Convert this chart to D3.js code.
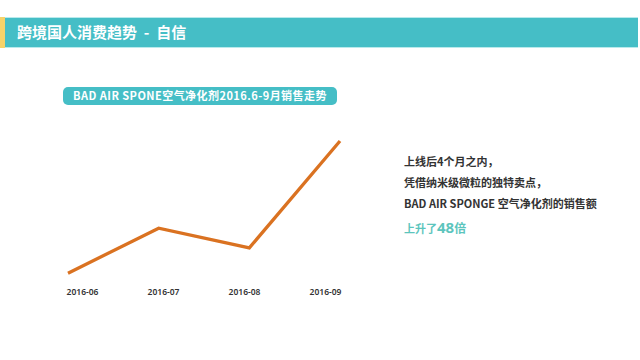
<!DOCTYPE html>
<html>
<head>
<meta charset="utf-8">
<script src="https://cdn.jsdelivr.net/npm/d3@7/dist/d3.min.js"></script>
<style>
  html, body { margin: 0; padding: 0; background: #fff; }
  svg { display: block; }
  text { font-family: "Noto Sans CJK SC", "Noto Sans", sans-serif; }
</style>
</head>
<body>
<svg id="chart" width="640" height="360"></svg>
<script>
// Monthly sales, indexed so that June = 1
const months = ["2016-06", "2016-07", "2016-08", "2016-09"];
const sales = [1, 17, 10, 48];

const headerTitle = "跨境国人消费趋势 - 自信";
const chartTitle = "BAD AIR SPONE空气净化剂2016.6-9月销售走势";
const noteLines = [
  "上线后4个月之内，",
  "凭借纳米级微粒的独特卖点，",
  "BAD AIR SPONGE 空气净化剂的销售额"
];
const growthText = ["上升了", "48", "倍"];

const teal = "#45bec6";
const orange = "#da7221";

const svg = d3.select("#chart");

// Section header bar
svg.append("rect").attr("x", 0).attr("y", 17).attr("width", 638).attr("height", 31)
  .attr("fill", "#b9eaec");
svg.append("rect").attr("x", 0).attr("y", 18).attr("width", 638).attr("height", 29)
  .attr("fill", teal);
svg.append("rect").attr("x", 0).attr("y", 17).attr("width", 5).attr("height", 31)
  .attr("fill", "#f6d36a");
svg.append("text").attr("x", 17).attr("y", 38)
  .attr("fill", "#fff").attr("font-size", 15).attr("font-weight", 700)
  .attr("xml:space", "preserve")
  .text(headerTitle.replace(" - ", "  -  "));

// Chart title pill
svg.append("rect").attr("x", 63).attr("y", 87).attr("width", 274).attr("height", 18)
  .attr("rx", 5).attr("fill", teal);
svg.append("text").attr("x", 200).attr("y", 100).attr("text-anchor", "middle")
  .attr("fill", "#fff").attr("font-size", 11).attr("font-weight", 700)
  .attr("letter-spacing", 0.45)
  .text(chartTitle);

// Scales
const x = d3.scalePoint().domain(months).range([68, 340]);
const xLabel = d3.scalePoint().domain(months).range([82, 325]);
const y = d3.scaleLinear().domain([0, 48]).range([276, 141]);

// Sales line
const line = d3.line()
  .x((d, i) => x(months[i]))
  .y(d => y(d));

svg.append("path").datum(sales)
  .attr("d", line)
  .attr("fill", "none")
  .attr("stroke", orange)
  .attr("stroke-width", 3.3)
  .attr("stroke-linejoin", "miter")
  .attr("stroke-linecap", "butt");

// Month axis (labels only)
const axis = svg.append("g").attr("transform", "translate(0,285)")
  .call(d3.axisBottom(xLabel).tickSize(0).tickPadding(4));
axis.select(".domain").remove();
axis.selectAll("text")
  .attr("fill", "#333")
  .style("font-family", "'Noto Sans', sans-serif")
  .style("font-size", "8.5px")
  .style("font-weight", 600);

// Commentary
const notes = svg.append("g").attr("transform", "translate(404,0)");
notes.selectAll("text.note").data(noteLines).join("text")
  .attr("class", "note")
  .attr("x", 0)
  .attr("y", (d, i) => 166 + i * 21)
  .attr("fill", "#333")
  .attr("font-size", 11)
  .attr("font-weight", 700)
  .text(d => d);

const growth = notes.append("text").attr("x", 0).attr("y", 233)
  .attr("fill", "#5cc5bd").attr("font-weight", 700);
growth.append("tspan").attr("font-size", 11).text(growthText[0]);
growth.append("tspan").attr("font-size", 15).style("font-family", "'Noto Sans', sans-serif").text(growthText[1]);
growth.append("tspan").attr("font-size", 12).text(growthText[2]);
</script>
</body>
</html>
